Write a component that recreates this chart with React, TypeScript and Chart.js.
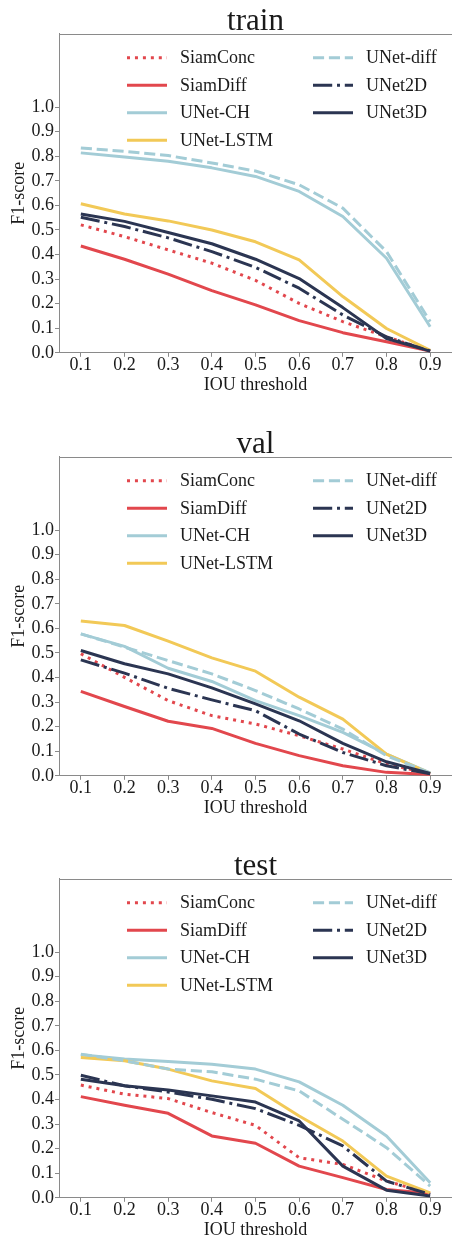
import React, { useEffect, useRef } from "react";
import { Chart, registerables } from "chart.js";

Chart.register(...registerables);

// ---------- data ----------
const iouThresholds = [0.1, 0.2, 0.3, 0.4, 0.5, 0.6, 0.7, 0.8, 0.9];
const yTickValues = [0.0, 0.1, 0.2, 0.3, 0.4, 0.5, 0.6, 0.7, 0.8, 0.9, 1.0];
const modelNames = ["SiamConc", "SiamDiff", "UNet-CH", "UNet-LSTM", "UNet-diff", "UNet2D", "UNet3D"];
const splitTitles = ["train", "val", "test"];

const trainSiamConc = [0.521, 0.473, 0.419, 0.365, 0.295, 0.201, 0.127, 0.065, 0.008];
const trainSiamDiff = [0.435, 0.381, 0.320, 0.253, 0.195, 0.131, 0.082, 0.045, 0.007];
const trainUNetCH = [0.814, 0.797, 0.780, 0.753, 0.718, 0.657, 0.555, 0.385, 0.106];
const trainUNetLSTM = [0.607, 0.565, 0.537, 0.500, 0.452, 0.378, 0.229, 0.099, 0.010];
const trainUNetDiff = [0.834, 0.820, 0.803, 0.773, 0.740, 0.684, 0.589, 0.412, 0.127];
const trainUNet2D = [0.552, 0.514, 0.468, 0.412, 0.348, 0.263, 0.154, 0.065, 0.007];
const trainUNet3D = [0.565, 0.535, 0.490, 0.444, 0.381, 0.302, 0.184, 0.058, 0.007];

const valSiamConc = [0.497, 0.401, 0.306, 0.245, 0.211, 0.163, 0.109, 0.048, 0.008];
const valSiamDiff = [0.344, 0.282, 0.222, 0.193, 0.132, 0.082, 0.041, 0.014, 0.005];
const valUNetCH = [0.578, 0.527, 0.438, 0.384, 0.306, 0.245, 0.177, 0.088, 0.012];
const valUNetLSTM = [0.630, 0.612, 0.548, 0.480, 0.426, 0.320, 0.231, 0.088, 0.010];
const valUNetDiff = [0.578, 0.524, 0.469, 0.415, 0.347, 0.272, 0.190, 0.082, 0.011];
const valUNet2D = [0.472, 0.418, 0.356, 0.309, 0.265, 0.170, 0.095, 0.041, 0.008];
const valUNet3D = [0.510, 0.456, 0.415, 0.358, 0.293, 0.224, 0.132, 0.057, 0.010];

const testSiamConc = [0.459, 0.422, 0.404, 0.347, 0.295, 0.163, 0.136, 0.068, 0.018];
const testSiamDiff = [0.412, 0.377, 0.344, 0.252, 0.222, 0.129, 0.082, 0.034, 0.018];
const testUNetCH = [0.582, 0.565, 0.555, 0.544, 0.524, 0.472, 0.377, 0.252, 0.061];
const testUNetLSTM = [0.571, 0.558, 0.524, 0.476, 0.445, 0.333, 0.231, 0.088, 0.020];
const testUNetDiff = [0.585, 0.558, 0.524, 0.513, 0.483, 0.435, 0.320, 0.204, 0.048];
const testUNet2D = [0.499, 0.456, 0.431, 0.401, 0.363, 0.295, 0.211, 0.068, 0.014];
const testUNet3D = [0.483, 0.456, 0.439, 0.415, 0.390, 0.313, 0.129, 0.031, 0.007];

const trainSeries = [trainSiamConc, trainSiamDiff, trainUNetCH, trainUNetLSTM, trainUNetDiff, trainUNet2D, trainUNet3D];
const valSeries = [valSiamConc, valSiamDiff, valUNetCH, valUNetLSTM, valUNetDiff, valUNet2D, valUNet3D];
const testSeries = [testSiamConc, testSiamDiff, testUNetCH, testUNetLSTM, testUNetDiff, testUNet2D, testUNet3D];

// ---------- styles ----------
const RED = "#e2474d";
const LIGHTBLUE = "#a3ccd6";
const YELLOW = "#f2c957";
const NAVY = "#2b3552";
const modelColors = [RED, RED, LIGHTBLUE, YELLOW, LIGHTBLUE, NAVY, NAVY];
const LW = 3;
const modelDashes = [
  [3, 4.95],
  [],
  [],
  [],
  [11.1, 4.8],
  [19.2, 4.8, 3, 4.8],
  [],
];
const SPINE = "#8a8a8a";
const TEXT = "#1a1a1a";
const FONT = '"Liberation Serif", "Times New Roman", serif';

const CANVAS_W = 452;
const CANVAS_H = 400;
const PANEL_TOPS = [0, 423, 845];

const decorPlugin = {
  id: "decor",
  afterDraw(chart: any, _args: any, opts: any) {
    const { ctx, chartArea } = chart;
    ctx.save();
    // top spine
    ctx.strokeStyle = SPINE;
    ctx.lineWidth = 1;
    ctx.setLineDash([]);
    ctx.beginPath();
    ctx.moveTo(chartArea.left, Math.round(chartArea.top) + 0.5);
    ctx.lineTo(chartArea.right, Math.round(chartArea.top) + 0.5);
    ctx.stroke();
    // title
    ctx.fillStyle = TEXT;
    ctx.font = `31px ${FONT}`;
    ctx.textAlign = "center";
    ctx.textBaseline = "alphabetic";
    ctx.fillText(opts.text, (chartArea.left + chartArea.right) / 2, chartArea.top - 4);
    // legend (two columns, column-major)
    const ds = chart.data.datasets;
    const colLineX = [127, 313];
    const lineLen = 40;
    const textGap = 13;
    const rowStart = chartArea.top + 24.3;
    const rowStep = 27.5;
    ctx.font = `18px ${FONT}`;
    ctx.textAlign = "left";
    ctx.textBaseline = "middle";
    for (let i = 0; i < ds.length; i++) {
      const col = i < 4 ? 0 : 1;
      const row = i < 4 ? i : i - 4;
      const y = rowStart + row * rowStep;
      const x0 = colLineX[col];
      ctx.strokeStyle = ds[i].borderColor;
      ctx.lineWidth = ds[i].borderWidth;
      ctx.setLineDash(ds[i].borderDash || []);
      ctx.lineDashOffset = 0;
      ctx.lineCap = "butt";
      ctx.beginPath();
      ctx.moveTo(x0, y);
      ctx.lineTo(x0 + lineLen, y);
      ctx.stroke();
      ctx.setLineDash([]);
      ctx.fillStyle = TEXT;
      ctx.fillText(ds[i].label, x0 + lineLen + textGap, y + 0.5);
    }
    ctx.restore();
  },
};

function Panel({ title, series, top }: { title: string; series: number[][]; top: number }) {
  const ref = useRef<HTMLCanvasElement | null>(null);
  useEffect(() => {
    if (!ref.current) return;
    const n = series.length;
    const datasets = series.map((vals, i) => ({
      label: modelNames[i],
      data: iouThresholds.map((x, j) => ({ x, y: vals[j] })),
      borderColor: modelColors[i],
      backgroundColor: modelColors[i],
      borderWidth: LW,
      borderDash: modelDashes[i],
      borderJoinStyle: "round" as const,
      borderCapStyle: "butt" as const,
      pointRadius: 0,
      pointHoverRadius: 0,
      tension: 0,
      fill: false,
      order: n - i,
    }));
    const chart = new Chart(ref.current, {
      type: "line",
      data: { datasets },
      plugins: [decorPlugin],
      options: {
        responsive: false,
        animation: false,
        events: [],
        layout: { padding: { top: 33.5, left: 0, right: 0, bottom: 0 } },
        plugins: {
          legend: { display: false },
          tooltip: { enabled: false },
          title: { display: false },
          decor: { text: title },
        } as any,
        scales: {
          x: {
            type: "linear",
            min: 0.05,
            max: 0.95,
            afterBuildTicks: (scale: any) => {
              scale.ticks = iouThresholds.map((v) => ({ value: v }));
            },
            afterFit: (scale: any) => {
              scale.height = CANVAS_H - 352.8;
            },
            ticks: {
              color: TEXT,
              font: { family: FONT, size: 18, lineHeight: 1 },
              padding: -1,
              maxRotation: 0,
              autoSkip: false,
              callback: (v: any) => Number(v).toFixed(1),
            },
            grid: { drawOnChartArea: false, drawTicks: true, tickLength: 4, color: SPINE, lineWidth: 1 },
            border: { display: true, color: SPINE, width: 1 },
            title: {
              display: true,
              text: "IOU threshold",
              color: TEXT,
              font: { family: FONT, size: 18, lineHeight: 1.2 },
              padding: { top: 0, bottom: 3.6 },
            },
          },
          y: {
            type: "linear",
            min: 0,
            max: 1.3,
            afterBuildTicks: (scale: any) => {
              scale.ticks = yTickValues.map((v) => ({ value: v }));
            },
            afterFit: (scale: any) => {
              scale.width = 59;
            },
            ticks: {
              color: TEXT,
              font: { family: FONT, size: 18, lineHeight: 1 },
              padding: 1,
              autoSkip: false,
              callback: (v: any) => Number(v).toFixed(1),
            },
            grid: { drawOnChartArea: false, drawTicks: true, tickLength: 4, color: SPINE, lineWidth: 1 },
            border: { display: true, color: SPINE, width: 1 },
            title: {
              display: true,
              text: "F1-score",
              color: TEXT,
              font: { family: FONT, size: 18, lineHeight: 1.2 },
              padding: { top: 8.2, bottom: 0 },
            },
          },
        },
      },
    });
    return () => chart.destroy();
  }, [title, series]);
  return (
    <canvas
      ref={ref}
      width={CANVAS_W}
      height={CANVAS_H}
      style={{ position: "absolute", left: 0, top, width: CANVAS_W, height: CANVAS_H, display: "block" }}
    />
  );
}

export default function App() {
  const allSeries = [trainSeries, valSeries, testSeries];
  return (
    <div
      style={{
        position: "absolute",
        left: 0,
        top: 0,
        width: 452,
        height: 1238,
        overflow: "hidden",
        background: "#ffffff",
      }}
    >
      {splitTitles.map((t, i) => (
        <Panel key={t} title={t} series={allSeries[i]} top={PANEL_TOPS[i]} />
      ))}
    </div>
  );
}
